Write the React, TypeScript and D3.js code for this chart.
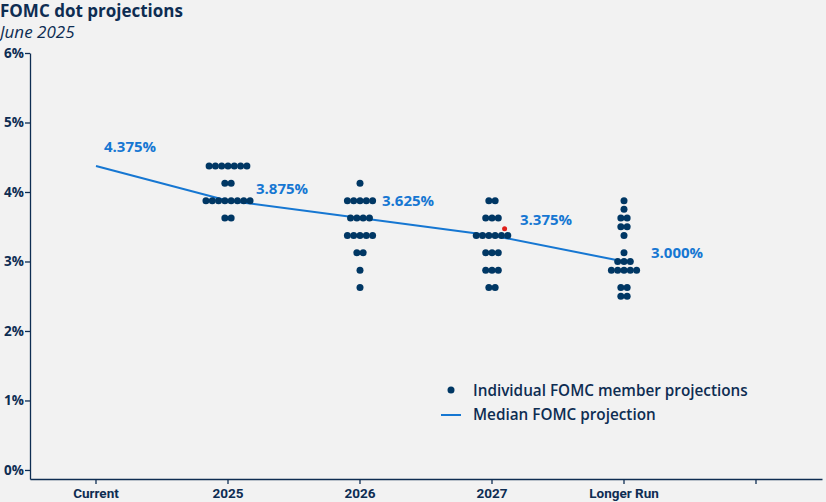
import { useEffect, useRef } from "react";
import * as d3 from "d3";

// Categories along the x axis (last slot is an empty band, as in the source)
const categories = ["Current", "2025", "2026", "2027", "Longer Run", ""];

// Dot plot: rate level -> number of participants, per year
const dots2025 = [
  { rate: 4.375, count: 7 },
  { rate: 4.125, count: 2 },
  { rate: 3.875, count: 8 },
  { rate: 3.625, count: 2 },
];
const dots2026 = [
  { rate: 4.125, count: 1 },
  { rate: 3.875, count: 5 },
  { rate: 3.625, count: 4 },
  { rate: 3.375, count: 5 },
  { rate: 3.125, count: 2 },
  { rate: 2.875, count: 1 },
  { rate: 2.625, count: 1 },
];
const dots2027 = [
  { rate: 3.875, count: 2 },
  { rate: 3.625, count: 3 },
  { rate: 3.375, count: 6 },
  { rate: 3.125, count: 3 },
  { rate: 2.875, count: 3 },
  { rate: 2.625, count: 2 },
];
const dotsLongerRun = [
  { rate: 3.875, count: 1 },
  { rate: 3.75, count: 1 },
  { rate: 3.625, count: 2 },
  { rate: 3.5, count: 2 },
  { rate: 3.375, count: 1 },
  { rate: 3.125, count: 1 },
  { rate: 3.0, count: 3 },
  { rate: 2.875, count: 5 },
  { rate: 2.625, count: 2 },
  { rate: 2.5, count: 2 },
];

// Median projection line
const medianCats = ["Current", "2025", "2026", "2027", "Longer Run"];
const medianValues = [4.375, 3.875, 3.625, 3.375, 3.0];
const medianLabels = ["4.375%", "3.875%", "3.625%", "3.375%", "3.000%"];

// small red marker sitting near the 2027 cluster
const redMarker = { cat: "2027", rate: 3.47, shift: 2 };

const yTicks = [0, 1, 2, 3, 4, 5, 6];

const NAVY = "#0e2d52";
const DOT = "#003764";
const BLUE = "#1677d2";
const FONT = "'Open Sans', 'DejaVu Sans', sans-serif";
const NARROW = "'Liberation Sans Narrow', 'Roboto', sans-serif";

export default function App() {
  const svgRef = useRef<SVGSVGElement>(null);

  useEffect(() => {
    document.body.style.margin = "0";
    if (!svgRef.current) return;

    const svg = d3.select(svgRef.current);
    svg.selectAll("*").remove();

    const width = 826;
    const height = 502;

    svg.append("rect").attr("width", width).attr("height", height).attr("fill", "#f2f2f2");

    // Scales
    const xScale = d3.scaleBand<string>().domain(categories).range([30, 822]);
    const cx = (c: string) => (xScale(c) ?? 0) + xScale.bandwidth() / 2;

    const yScale = d3.scaleLinear().domain([-0.13, 6]).range([479, 53]);

    // Y axis
    const yAxis = svg
      .append("g")
      .attr("transform", "translate(30,0)")
      .call(
        d3
          .axisLeft(yScale)
          .tickValues(yTicks)
          .tickSize(5)
          .tickSizeOuter(0)
          .tickFormat((d) => `${d}%`)
      );
    yAxis.selectAll("path, line").attr("stroke", NAVY).attr("stroke-width", 1.3);
    yAxis
      .selectAll("text")
      .attr("x", -6)
      .style("fill", NAVY)
      .style("font-family", FONT)
      .style("font-weight", "bold")
      .style("font-size", "13.5px");

    // X axis
    const xAxis = svg
      .append("g")
      .attr("transform", "translate(0,479)")
      .call(d3.axisBottom(xScale).tickSize(5).tickSizeOuter(0));
    xAxis.selectAll("path, line").attr("stroke", NAVY).attr("stroke-width", 1.3);
    xAxis
      .selectAll("text")
      .attr("y", 9)
      .style("fill", NAVY)
      .style("font-family", NARROW)
      .style("font-weight", "bold")
      .style("font-size", "13.5px");

    // Median line
    const medianData = medianCats.map((c, i) => ({ cat: c, value: medianValues[i], label: medianLabels[i] }));
    const line = d3
      .line<{ cat: string; value: number }>()
      .x((d) => cx(d.cat))
      .y((d) => yScale(d.value));
    svg
      .append("path")
      .datum(medianData)
      .attr("fill", "none")
      .attr("stroke", BLUE)
      .attr("stroke-width", 2)
      .attr("d", line);

    // Dots
    const spacing = 6.3;
    const groups: [string, { rate: number; count: number }[]][] = [
      ["2025", dots2025],
      ["2026", dots2026],
      ["2027", dots2027],
      ["Longer Run", dotsLongerRun],
    ];
    const points: { x: number; y: number }[] = [];
    groups.forEach(([cat, rows]) => {
      rows.forEach((r) => {
        for (let i = 0; i < r.count; i++) {
          points.push({
            x: cx(cat) + (i - (r.count - 1) / 2) * spacing,
            y: yScale(r.rate),
          });
        }
      });
    });
    svg
      .append("g")
      .selectAll("circle")
      .data(points)
      .enter()
      .append("circle")
      .attr("cx", (d) => d.x)
      .attr("cy", (d) => d.y)
      .attr("r", 3.5)
      .attr("fill", DOT);

    svg
      .append("circle")
      .attr("cx", cx(redMarker.cat) + redMarker.shift * spacing)
      .attr("cy", yScale(redMarker.rate))
      .attr("r", 2.5)
      .attr("fill", "#e0201b");

    // Median value labels
    const labelOffsets = [
      [8, -19],
      [28, -12],
      [22, -17],
      [28, -16],
      [27, -9],
    ];
    svg
      .append("g")
      .selectAll("text")
      .data(medianData)
      .enter()
      .append("text")
      .attr("x", (d, i) => cx(d.cat) + labelOffsets[i][0])
      .attr("y", (d, i) => yScale(d.value) + labelOffsets[i][1])
      .attr("dy", "0.35em")
      .style("fill", BLUE)
      .style("font-family", FONT)
      .style("font-weight", "bold")
      .style("font-size", "15px")
      .text((d) => d.label);

    // Title
    svg
      .append("text")
      .attr("x", 0)
      .attr("y", 17)
      .style("fill", NAVY)
      .style("font-family", FONT)
      .style("font-weight", "bold")
      .style("font-size", "17px")
      .text("FOMC dot projections");
    svg
      .append("text")
      .attr("x", 0)
      .attr("y", 38)
      .style("fill", NAVY)
      .style("font-family", FONT)
      .style("font-style", "italic")
      .style("font-size", "17px")
      .text("June 2025");

    // Legend
    const legend = svg.append("g");
    legend.append("circle").attr("cx", 451).attr("cy", 390).attr("r", 3.5).attr("fill", DOT);
    legend
      .append("line")
      .attr("x1", 441)
      .attr("x2", 461)
      .attr("y1", 415)
      .attr("y2", 415)
      .attr("stroke", BLUE)
      .attr("stroke-width", 2);
    [
      ["Individual FOMC member projections", 391],
      ["Median FOMC projection", 415],
    ].forEach(([t, y]) => {
      legend
        .append("text")
        .attr("x", 473)
        .attr("y", y as number)
        .attr("dy", "0.35em")
        .style("fill", NAVY)
        .style("font-family", FONT)
        .style("font-weight", 600)
        .style("font-size", "15.3px")
        .text(t as string);
    });
  }, []);

  return <svg ref={svgRef} width="826" height="502" style={{ display: "block" }} />;
}
